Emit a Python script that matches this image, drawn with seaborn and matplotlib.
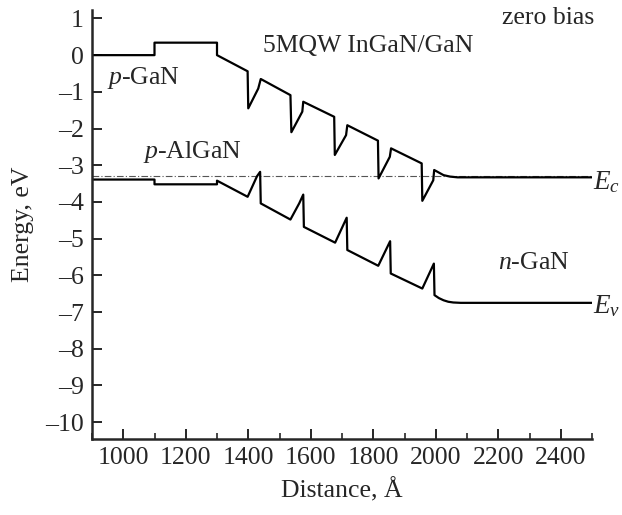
import numpy as np
import pandas as pd
import matplotlib
matplotlib.use("Agg")
import matplotlib.pyplot as plt
from matplotlib.ticker import MultipleLocator
import seaborn as sns

# band edges (distance in A, energy in eV)
ec_x = [900, 1100, 1100, 1300, 1300, 1398, 1400, 1432, 1440, 1535, 1538, 1573, 1576,
        1675, 1677, 1713, 1717, 1815, 1817, 1853, 1857, 1955, 1957, 1992, 1995, 2010,
        2025, 2046, 2070, 2500]
ec_y = [0.0, 0.0, 0.34, 0.34, 0.0, -0.44, -1.45, -0.91, -0.65, -1.09, -2.10, -1.54, -1.27,
        -1.68, -2.72, -2.18, -1.91, -2.33, -3.36, -2.77, -2.54, -2.95, -3.97, -3.41, -3.13,
        -3.20, -3.27, -3.31, -3.33, -3.33]

ev_x = [900, 1100, 1100, 1300, 1300, 1398, 1428, 1438, 1440, 1535, 1563, 1576, 1578,
        1678, 1715, 1717, 1816, 1854, 1856, 1957, 1994, 1996, 2010, 2025, 2040, 2056,
        2080, 2500]
ev_y = [-3.39, -3.39, -3.52, -3.52, -3.42, -3.86, -3.30, -3.18, -4.04, -4.48, -4.04, -3.80, -4.68,
        -5.11, -4.43, -5.31, -5.74, -5.07, -5.95, -6.36, -5.68, -6.54, -6.62, -6.68, -6.72, -6.74,
        -6.75, -6.75]

fermi_x = [900, 2500]
fermi_y = [-3.29, -3.29]

ec = pd.DataFrame({"x": ec_x, "E": ec_y})
ev = pd.DataFrame({"x": ev_x, "E": ev_y})
ef = pd.DataFrame({"x": fermi_x, "E": fermi_y})

sns.set_style("ticks")
plt.rcParams["font.family"] = ["Liberation Serif", "DejaVu Serif"]
plt.rcParams["mathtext.fontset"] = "custom"
plt.rcParams["mathtext.rm"] = "Liberation Serif"
plt.rcParams["mathtext.it"] = "Liberation Serif:italic"

fs = 18.5
fig = plt.figure(figsize=(6.22, 5.15), dpi=100)
ax = fig.add_axes([92 / 622, 76 / 515, 500 / 622, 429 / 515])

sns.lineplot(data=ef, x="x", y="E", ax=ax, color="#555555", lw=0.8,
             linestyle=(0, (6, 2, 1, 2)), sort=False, estimator=None)
sns.lineplot(data=ec, x="x", y="E", ax=ax, color="black", lw=1.6, sort=False, estimator=None)
sns.lineplot(data=ev, x="x", y="E", ax=ax, color="black", lw=1.6, sort=False, estimator=None)

ax.set_xlim(900, 2500)
ax.set_ylim(-10.46, 1.23)
ax.xaxis.set_major_locator(MultipleLocator(200))
ax.xaxis.set_minor_locator(MultipleLocator(100))
ax.yaxis.set_major_locator(MultipleLocator(1))
ax.set_xticks(range(1000, 2401, 200))
ax.set_yticks(range(-10, 2))
ax.set_yticklabels([str(v).replace("-", "\u2013") for v in range(-10, 2)])
ax.tick_params(axis="both", which="major", direction="in", length=7, width=1.4,
               labelsize=fs, pad=6)
ax.tick_params(axis="x", which="minor", direction="in", length=4, width=1.2)
for s in ["top", "right"]:
    ax.spines[s].set_visible(False)
for s in ["left", "bottom"]:
    ax.spines[s].set_linewidth(1.8)

ax.set_xlabel("Distance, \u00c5", fontsize=fs, labelpad=6)
ax.set_ylabel("Energy, eV", fontsize=fs, labelpad=8)

ax.text(2506, 1.0, "zero bias", fontsize=fs, ha="right", va="center")
ax.text(1447, 0.25, "5MQW InGaN/GaN", fontsize=fs, ha="left", va="center")
ax.text(947, -0.63, "$p$-GaN", fontsize=fs, ha="left", va="center")
ax.text(1063, -2.63, "$p$-AlGaN", fontsize=fs, ha="left", va="center")
ax.text(2199, -5.67, "$n$-GaN", fontsize=fs, ha="left", va="center")
ax.text(2503, -3.45, "$E_c$", fontsize=fs + 1, ha="left", va="center", clip_on=False)
ax.text(2503, -6.85, "$E_v$", fontsize=fs + 1, ha="left", va="center", clip_on=False)

fig.savefig("out.png", dpi=100)
